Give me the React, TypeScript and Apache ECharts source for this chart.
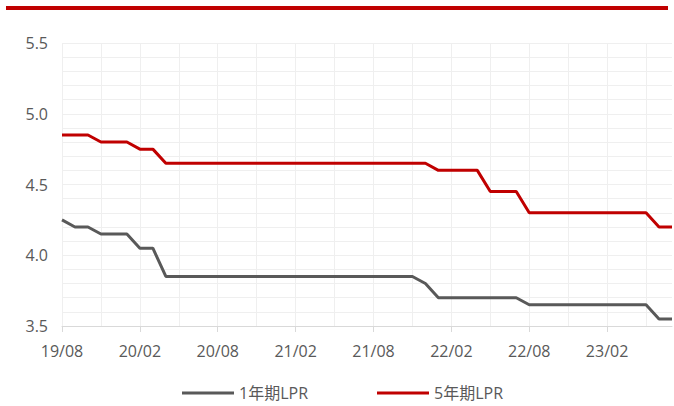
import React, { useEffect, useRef } from "react";
import * as echarts from "echarts";

const categories = [
  "19/08", "19/09", "19/10", "19/11", "19/12",
  "20/01", "20/02", "20/03", "20/04", "20/05", "20/06", "20/07", "20/08", "20/09", "20/10", "20/11", "20/12",
  "21/01", "21/02", "21/03", "21/04", "21/05", "21/06", "21/07", "21/08", "21/09", "21/10", "21/11", "21/12",
  "22/01", "22/02", "22/03", "22/04", "22/05", "22/06", "22/07", "22/08", "22/09", "22/10", "22/11", "22/12",
  "23/01", "23/02", "23/03", "23/04", "23/05", "23/06", "23/07",
];

const lpr1y = [
  4.25, 4.2, 4.2, 4.15, 4.15,
  4.15, 4.05, 4.05, 3.85, 3.85, 3.85, 3.85, 3.85, 3.85, 3.85, 3.85, 3.85,
  3.85, 3.85, 3.85, 3.85, 3.85, 3.85, 3.85, 3.85, 3.85, 3.85, 3.85, 3.8,
  3.7, 3.7, 3.7, 3.7, 3.7, 3.7, 3.7, 3.65, 3.65, 3.65, 3.65, 3.65,
  3.65, 3.65, 3.65, 3.65, 3.65, 3.55, 3.55,
];

const lpr5y = [
  4.85, 4.85, 4.85, 4.8, 4.8,
  4.8, 4.75, 4.75, 4.65, 4.65, 4.65, 4.65, 4.65, 4.65, 4.65, 4.65, 4.65,
  4.65, 4.65, 4.65, 4.65, 4.65, 4.65, 4.65, 4.65, 4.65, 4.65, 4.65, 4.65,
  4.6, 4.6, 4.6, 4.6, 4.45, 4.45, 4.45, 4.3, 4.3, 4.3, 4.3, 4.3,
  4.3, 4.3, 4.3, 4.3, 4.3, 4.2, 4.2,
];

const seriesNames = ["1年期LPR", "5年期LPR"];
const FONT = "'Open Sans', 'Noto Sans CJK SC', sans-serif";

export default function App() {
  const ref = useRef<HTMLDivElement>(null);
  useEffect(() => {
    if (!ref.current) return;
    const chart = echarts.init(ref.current, null, { renderer: "svg" });
    const legendText = { color: "#595959", fontSize: 16, fontFamily: FONT };
    chart.setOption({
      animation: false,
      backgroundColor: "#ffffff",
      textStyle: { fontFamily: FONT },
      graphic: [
        {
          type: "rect",
          shape: { x: 6, y: 6, width: 662, height: 4 },
          style: { fill: "#C00000" },
        },
      ],
      grid: { left: 62, right: 2, top: 43, bottom: 80 },
      legend: [
        {
          data: [{ name: seriesNames[0], icon: "rect" }],
          left: 182,
          top: 385,
          padding: 0,
          itemWidth: 52,
          itemHeight: 3,
          textStyle: legendText,
        },
        {
          data: [{ name: seriesNames[1], icon: "rect" }],
          left: 377,
          top: 385,
          padding: 0,
          itemWidth: 52,
          itemHeight: 3,
          textStyle: legendText,
        },
      ],
      xAxis: {
        type: "category",
        data: categories,
        boundaryGap: false,
        axisLine: { lineStyle: { color: "#d9d9d9", width: 1 } },
        axisTick: { show: true, interval: 5, length: 6, lineStyle: { color: "#d9d9d9" } },
        axisLabel: { interval: 5, color: "#595959", fontSize: 16, margin: 17, fontFamily: FONT },
        splitLine: { show: true, interval: 2, lineStyle: { color: "#efefef", width: 1 } },
      },
      yAxis: {
        type: "value",
        min: 3.5,
        max: 5.5,
        interval: 0.5,
        axisLine: { show: false },
        axisTick: { show: false },
        axisLabel: {
          color: "#595959",
          fontSize: 16,
          margin: 14,
          fontFamily: FONT,
          formatter: (v: number) => v.toFixed(1),
        },
        splitLine: { show: true, lineStyle: { color: "#efefef", width: 1 } },
        minorTick: { show: false, splitNumber: 5 },
        minorSplitLine: { show: true, lineStyle: { color: "#efefef", width: 1 } },
      },
      series: [
        {
          name: seriesNames[0],
          type: "line",
          data: lpr1y,
          symbol: "none",
          lineStyle: { color: "#595959", width: 3 },
          itemStyle: { color: "#595959" },
        },
        {
          name: seriesNames[1],
          type: "line",
          data: lpr5y,
          symbol: "none",
          lineStyle: { color: "#C00000", width: 3 },
          itemStyle: { color: "#C00000" },
        },
      ],
    });
    return () => chart.dispose();
  }, []);
  return (
    <div
      ref={ref}
      style={{ position: "fixed", left: 0, top: 0, width: 674, height: 406 }}
    />
  );
}
